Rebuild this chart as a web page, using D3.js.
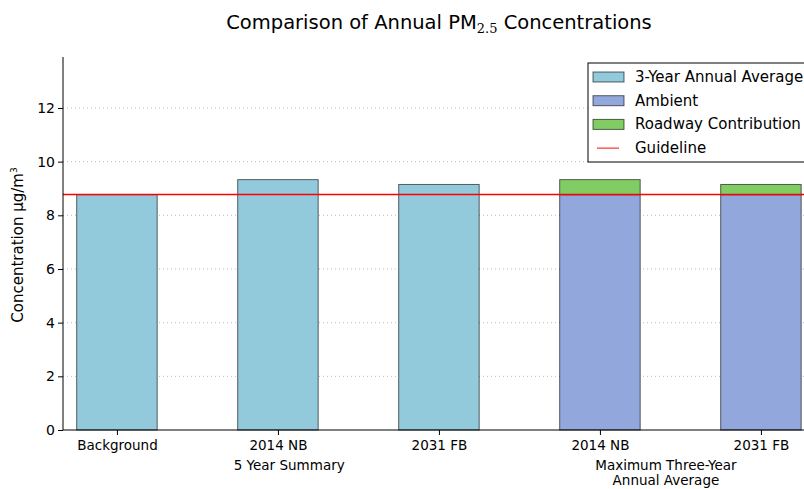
<!DOCTYPE html>
<html>
<head>
<meta charset="utf-8">
<script src="https://cdn.jsdelivr.net/npm/d3@7"></script>
<style>
  body { margin: 0; background: #fff; }
  text { font-family: "DejaVu Sans", sans-serif; fill: #000; }
</style>
</head>
<body>
<div id="chart"></div>
<script>
// bar categories, left to right
const categories = ["Background", "2014 NB", "2031 FB", "2014 NB", "2031 FB"];
// 3-year annual average (first three bars)
const annualAverage = [8.77, 9.33, 9.15, null, null];
// stacked bars (last two)
const ambient = [null, null, null, 8.77, 8.77];
const roadway = [null, null, null, 0.56, 0.38];
const guideline = 8.8;
const yTicks = [0, 2, 4, 6, 8, 10, 12];
const groupLabels = [
  { lines: ["5 Year Summary"], at: 1.07 },
  { lines: ["Maximum Three-Year", "Annual Average"], at: 3.41 }
];
const legendItems = [
  { label: "3-Year Annual Average", color: "#92cadc", type: "rect" },
  { label: "Ambient", color: "#92a8dc", type: "rect" },
  { label: "Roadway Contribution", color: "#82cc64", type: "rect" },
  { label: "Guideline", color: "#ff0000", type: "line" }
];

const width = 804, height = 489;
const margin = { top: 57, left: 63, bottom: 59 };
const svg = d3.select("#chart").append("svg")
  .attr("width", width).attr("height", height);

const x = d3.scaleLinear().domain([-0.335, 4.665]).range([margin.left, margin.left + 805]);
const y = d3.scaleLinear().domain([0, 13.9]).range([height - margin.bottom, margin.top]);
const barW = x(0.5) - x(0);

// grid
svg.append("g").selectAll("line").data(yTicks.slice(1)).enter().append("line")
  .attr("x1", margin.left).attr("x2", width)
  .attr("y1", d => y(d)).attr("y2", d => y(d))
  .attr("stroke", "#bbb").attr("stroke-dasharray", "1,3");

const edge = "rgba(0,0,0,0.6)";
const bars = svg.append("g");
annualAverage.forEach((v, i) => {
  if (v == null) return;
  bars.append("rect")
    .attr("x", x(i) - barW / 2).attr("width", barW)
    .attr("y", y(v)).attr("height", y(0) - y(v))
    .attr("fill", "#92cadc").attr("stroke", edge);
});
ambient.forEach((v, i) => {
  if (v == null) return;
  bars.append("rect")
    .attr("x", x(i) - barW / 2).attr("width", barW)
    .attr("y", y(v)).attr("height", y(0) - y(v))
    .attr("fill", "#92a8dc").attr("stroke", edge);
  const r = roadway[i];
  bars.append("rect")
    .attr("x", x(i) - barW / 2).attr("width", barW)
    .attr("y", y(v + r)).attr("height", y(v) - y(v + r))
    .attr("fill", "#82cc64").attr("stroke", edge);
});

// guideline
svg.append("line")
  .attr("x1", margin.left).attr("x2", width)
  .attr("y1", Math.round(y(guideline)) + 0.5).attr("y2", Math.round(y(guideline)) + 0.5)
  .attr("stroke", "#ff0000").attr("stroke-width", 1.5);

// axes
const yAxis = svg.append("g").attr("transform", `translate(${margin.left},0)`)
  .call(d3.axisLeft(y).tickValues(yTicks).tickSize(5).tickPadding(3));
yAxis.select(".domain").remove();
yAxis.selectAll("text").style("font-size", "14px");
svg.append("line").attr("x1", margin.left).attr("x2", margin.left)
  .attr("y1", margin.top).attr("y2", y(0)).attr("stroke", "#000");

const xAxis = svg.append("g").attr("transform", `translate(0,${y(0)})`)
  .call(d3.axisBottom(x).tickValues(d3.range(categories.length))
    .tickFormat(i => categories[i]).tickSize(5).tickPadding(5));
xAxis.select(".domain").remove();
xAxis.selectAll("text").style("font-size", "13.5px");
svg.append("line").attr("x1", margin.left).attr("x2", width)
  .attr("y1", y(0)).attr("y2", y(0)).attr("stroke", "#000");

// group labels
groupLabels.forEach(g => {
  g.lines.forEach((l, k) => {
    svg.append("text").attr("x", x(g.at)).attr("y", 470 + k * 15)
      .attr("text-anchor", "middle").style("font-size", "13.5px").text(l);
  });
});

// title
const title = svg.append("text").attr("x", 439).attr("y", 29)
  .attr("text-anchor", "middle").style("font-size", "19.5px");
title.append("tspan").text("Comparison of Annual PM");
title.append("tspan").attr("dy", 4).style("font-size", "13px")
  .style("font-family", "DejaVu Serif, serif").text("2.5");
title.append("tspan").attr("dy", -4).text(" Concentrations");

// y label
const yl = svg.append("text").attr("transform", `translate(23,245) rotate(-90)`)
  .attr("text-anchor", "middle").style("font-size", "15px");
yl.append("tspan").text("Concentration µg/m");
yl.append("tspan").attr("dy", -6).style("font-size", "9px").text("3");

// legend
const lg = svg.append("g").attr("transform", "translate(588,63)");
lg.append("rect").attr("width", 230).attr("height", 99)
  .attr("fill", "#fff").attr("stroke", "#000");
legendItems.forEach((d, i) => {
  const cy = 14 + i * 23.7;
  if (d.type === "rect") {
    lg.append("rect").attr("x", 5).attr("y", cy - 5).attr("width", 31).attr("height", 10)
      .attr("fill", d.color).attr("stroke", edge);
  } else {
    lg.append("line").attr("x1", 9).attr("x2", 31).attr("y1", cy).attr("y2", cy)
      .attr("stroke", d.color).attr("stroke-width", 1);
  }
  lg.append("text").attr("x", 47).attr("y", cy + 5).style("font-size", "15px").text(d.label);
});
</script>
</body>
</html>
